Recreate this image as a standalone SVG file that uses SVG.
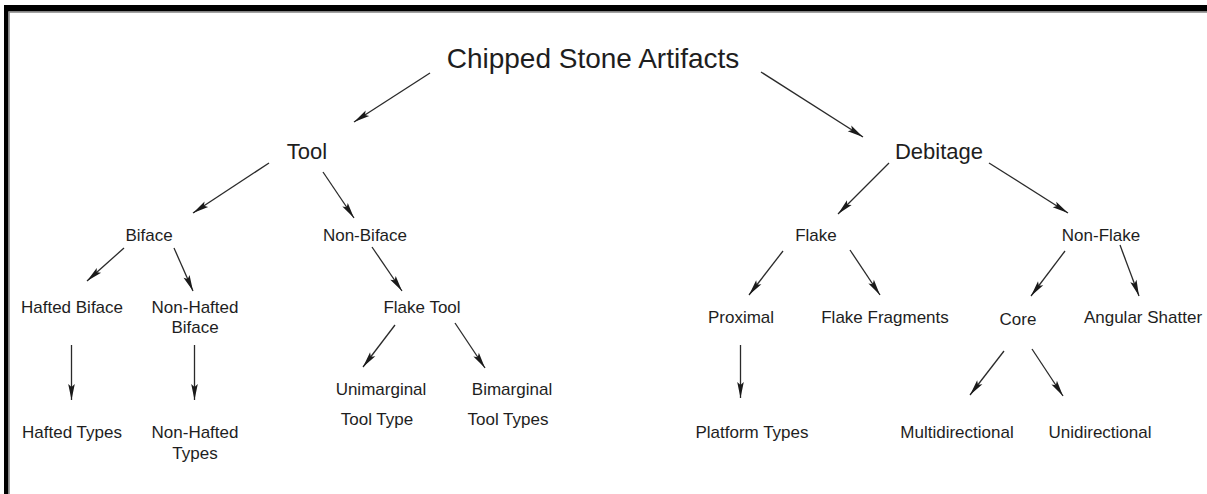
<svg xmlns="http://www.w3.org/2000/svg" width="1207" height="494" viewBox="0 0 1207 494">
<style>
text{font-family:"Liberation Sans",Arial,sans-serif;fill:#1e1e1e;text-anchor:middle}
.t0{font-size:28px}
.t1{font-size:22px}
.t2{font-size:17px}
.c line{stroke:#2a2a2a;stroke-width:1.3;marker-end:url(#ah)}
</style>
<defs>
<marker id="ah" markerUnits="userSpaceOnUse" viewBox="-17 -4 18 8" refX="0" refY="0" markerWidth="18" markerHeight="8" orient="auto">
<path d="M0,0 L-16,-3.3 L-13,0 L-16,3.3 Z" fill="#1a1a1a"/>
</marker>
</defs>
<rect width="1207" height="494" fill="#fff"/>
<g id="frame">
<rect x="4" y="5" width="1203" height="6.5" fill="#000"/>
<rect x="4" y="5" width="4.5" height="489" fill="#000"/>
<rect x="8.5" y="11.5" width="1198.5" height="1.3" fill="#8a8a8a"/>
<rect x="8.5" y="11.5" width="1.3" height="482.5" fill="#8a8a8a"/>
</g>
<g id="connectors" class="c">
<line x1="430" y1="73" x2="354" y2="122"/>
<line x1="761" y1="72" x2="863" y2="137"/>
<line x1="269" y1="163" x2="193" y2="213"/>
<line x1="323" y1="172" x2="354" y2="218"/>
<line x1="889" y1="163" x2="838" y2="214"/>
<line x1="989" y1="163" x2="1068" y2="213"/>
<line x1="124" y1="248" x2="87" y2="281"/>
<line x1="174" y1="248" x2="193" y2="291"/>
<line x1="372" y1="247" x2="402" y2="291"/>
<line x1="783" y1="251" x2="749" y2="295"/>
<line x1="850" y1="250" x2="880" y2="295"/>
<line x1="1065" y1="251" x2="1031" y2="296"/>
<line x1="1120" y1="245" x2="1139" y2="296"/>
<line x1="71.5" y1="345" x2="71.5" y2="400"/>
<line x1="194.5" y1="345" x2="194.5" y2="400"/>
<line x1="395" y1="325" x2="363" y2="367"/>
<line x1="455" y1="323" x2="485" y2="368"/>
<line x1="740.5" y1="345" x2="740.5" y2="398"/>
<line x1="1004" y1="351" x2="970" y2="395"/>
<line x1="1032" y1="349" x2="1063" y2="396"/>
</g>
<g id="n-root"><text class="t0" x="593" y="68">Chipped Stone Artifacts</text></g>
<g id="n-tool"><text class="t1" x="307" y="159">Tool</text></g>
<g id="n-debitage"><text class="t1" x="939" y="159">Debitage</text></g>
<g id="n-biface"><text class="t2" x="149" y="241">Biface</text></g>
<g id="n-nonbiface"><text class="t2" x="365" y="241">Non-Biface</text></g>
<g id="n-flake"><text class="t2" x="816" y="241">Flake</text></g>
<g id="n-nonflake"><text class="t2" x="1101" y="241">Non-Flake</text></g>
<g id="n-haftedbiface"><text class="t2" x="72" y="313">Hafted Biface</text></g>
<g id="n-nonhaftedbiface"><text class="t2" x="195" y="313">Non-Hafted</text><text class="t2" x="195" y="333">Biface</text></g>
<g id="n-flaketool"><text class="t2" x="422" y="313">Flake Tool</text></g>
<g id="n-proximal"><text class="t2" x="741" y="323">Proximal</text></g>
<g id="n-flakefragments"><text class="t2" x="885" y="323">Flake Fragments</text></g>
<g id="n-core"><text class="t2" x="1018" y="325">Core</text></g>
<g id="n-angularshatter"><text class="t2" x="1143" y="323">Angular Shatter</text></g>
<g id="n-unimarginal"><text class="t2" x="381" y="395">Unimarginal</text><text class="t2" x="377" y="425">Tool Type</text></g>
<g id="n-bimarginal"><text class="t2" x="512" y="395">Bimarginal</text><text class="t2" x="508" y="425">Tool Types</text></g>
<g id="n-haftedtypes"><text class="t2" x="72" y="438">Hafted Types</text></g>
<g id="n-nonhaftedtypes"><text class="t2" x="195" y="438">Non-Hafted</text><text class="t2" x="195" y="459">Types</text></g>
<g id="n-platformtypes"><text class="t2" x="752" y="438">Platform Types</text></g>
<g id="n-multidirectional"><text class="t2" x="957" y="438">Multidirectional</text></g>
<g id="n-unidirectional"><text class="t2" x="1100" y="438">Unidirectional</text></g>
</svg>
